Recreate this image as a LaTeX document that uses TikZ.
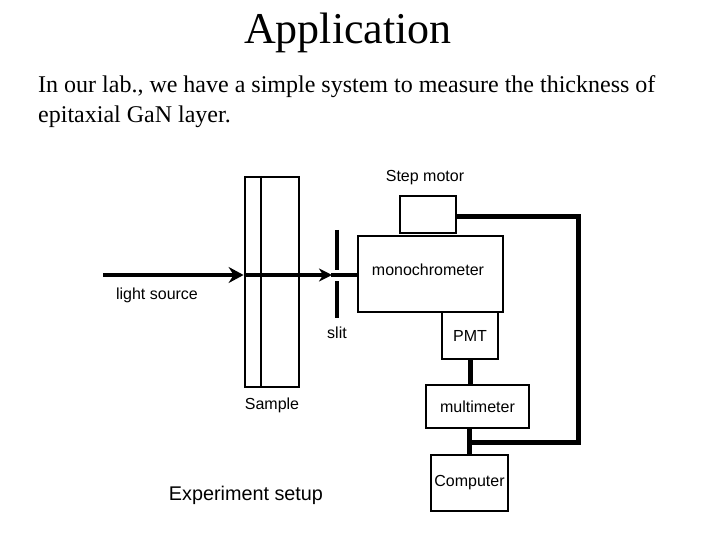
\documentclass[tikz,border=0pt]{standalone}
\usepackage{fontspec}
\setmainfont{Liberation Serif}
\setsansfont{Liberation Sans}
\usetikzlibrary{arrows.meta}

\begin{document}
\begin{tikzpicture}[x=1pt,y=-1pt,
        box/.style={draw, line width=2.8pt, inner sep=0pt, font=\sffamily\fontsize{16}{19}\selectfont},
        lbl/.style={inner sep=0pt, font=\sffamily\fontsize{16}{19}\selectfont},
        beam/.style={line width=4.5pt},
        wire/.style={line width=5pt},
        slitbar/.style={line width=4pt}]
        \useasboundingbox (0,0) rectangle (720,540);

        \node[font=\fontsize{44}{50}\selectfont] (title) at (348,33) {Application};
        \node[anchor=north west, align=left, inner sep=0pt,
              font=\fontsize{24}{30}\selectfont] (intro) at (38,75)
              {In our lab., we have a simple system to measure the thickness of\\epitaxial GaN layer.};

        % optics
        \node[box, minimum width=54, minimum height=210] (smp) at (272,282) {};
        \draw[line width=2.8pt] (261,176) -- (261,387);
        \coordinate (src) at (103,275);
        \coordinate (slit) at (337,275);

        \node[box, minimum width=56, minimum height=37] (motor) at (428,214.5) {};
        \node[box, minimum width=145, minimum height=76] (mono) at (430.5,274) {};
        \node[box, minimum width=56, minimum height=47] (pmt) at (470,335.5) {PMT};
        \node[box, minimum width=103, minimum height=43] (multi) at (477.5,406.5) {multimeter};
        \node[box, minimum width=77, minimum height=56] (comp) at (469.5,483) {Computer};
        \node[lbl] (monolbl) at (428,270) {monochrometer};

        \draw[beam, -{Stealth[length=15pt, width=16pt, inset=5pt]}] (src) -- (smp.west |- src);
        \draw[beam, -{Stealth[length=13pt, width=13pt, inset=4pt]}] (smp.west |- src) -- ([xshift=-5pt]slit);
        \draw[beam] ([xshift=-6pt]slit) -- (mono.west |- slit);
        \draw[slitbar] ([yshift=45pt]slit) -- ([yshift=5pt]slit);
        \draw[slitbar] ([yshift=-6pt]slit) -- ([yshift=-43pt]slit);

        % electronics
        \coordinate (c1) at (578,217);
        \coordinate (c2) at (578,442);
        \draw[wire] (motor.east |- c1) -- (c1) -- (c2) -- (comp.north |- c2);
        \draw[wire] (pmt.south) -- (pmt.south |- multi.north);
        \draw[wire] (multi.south -| comp.north) -- (comp.north);

        \node[lbl] (srclbl) at (157,295) {light source};
        \node[lbl] (slitlbl) at (337,333) {slit};
        \node[lbl] (smplbl) at (272,405) {Sample};
        \node[lbl] (motorlbl) at (425,178) {Step motor};
        \node[inner sep=0pt, font=\sffamily\fontsize{19.8}{23}\selectfont] (caption) at (246,495) {Experiment setup};
    \end{tikzpicture}
\end{document}
